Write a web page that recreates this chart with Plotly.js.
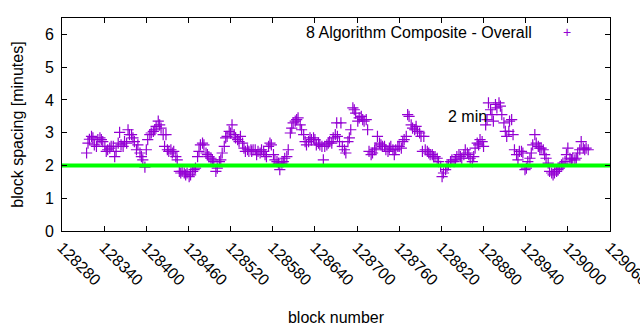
<!DOCTYPE html>
<html><head><meta charset="utf-8">
<script src="https://cdn.plot.ly/plotly-3.0.1.min.js"></script>
<style>html,body{margin:0;padding:0;background:#fff}#chart{width:640px;height:330px}</style>
</head><body><div id="chart"></div>
<script>
const seriesName = "8 Algorithm Composite - Overall";
const targetMinutes = 2;
const targetLabel = "2 min";
const xTitle = "block number";
const yTitle = "block spacing [minutes]";
const xTickVals = [128280,128340,128400,128460,128520,128580,128640,128700,128760,128820,128880,128940,129000,129060];
const yTickVals = [0,1,2,3,4,5,6];

const blocks1 = [128315,128317,128319,128322,128324,128326,128329,128331,128334,128336,128338,128341,128343,128345,128348,128350,128353,128355,128357,128360,128362,128364,128367,128369,128372,128374,128376,128379,128381,128383,128386,128388,128391,128393,128395,128398,128400,128402,128405,128407,128410,128412,128414,128417,128419,128421,128424,128426];
const spacing1 = [2.38,2.68,2.80,2.89,2.84,2.63,2.58,2.79,2.84,2.79,2.73,2.58,2.43,2.48,2.53,2.58,2.58,2.27,2.43,2.68,3.01,2.63,2.58,2.73,2.68,3.09,2.94,2.94,2.84,2.73,2.48,2.63,2.38,2.27,2.17,1.95,2.48,2.79,2.94,2.99,3.04,3.09,3.19,3.35,3.24,3.14,2.94,2.58];

const blocks2 = [128428,128430,128432,128435,128437,128439,128442,128444,128447,128449,128451,128454,128456,128458,128461,128463,128466,128468,128470,128473,128475,128477,128480,128482,128485,128487,128489,128492,128494,128496,128499,128501,128504,128506,128508,128511,128513,128515,128518,128520,128522,128525,128527,128530,128532,128534,128537,128539,128541,128544,128546,128549];
const spacing2 = [2.94,2.48,2.43,2.48,2.38,2.43,2.27,2.17,1.82,1.77,1.82,1.77,1.71,1.77,1.66,1.71,1.82,1.87,1.92,2.27,2.43,2.63,2.68,2.63,2.38,2.33,2.27,2.22,2.17,2.12,1.82,1.92,2.12,2.17,2.38,2.58,2.84,2.89,3.04,2.99,3.24,2.94,2.84,2.79,2.73,2.89,2.68,2.53,2.43,2.48,2.43,2.48];

const blocks3 = [128550,128552,128555,128557,128559,128562,128564,128567,128569,128571,128574,128576,128578,128581,128583,128586,128588,128590,128593,128595,128597,128600,128602,128605,128607,128609,128612,128614,128616,128619,128621,128624,128626,128628,128631,128633,128635,128638,128640,128642,128645,128647,128650,128652,128654,128657,128659,128661,128664,128666,128669,128671];
const spacing3 = [2.43,2.48,2.48,2.33,2.43,2.38,2.48,2.43,2.33,2.27,2.58,2.68,2.63,2.33,2.17,2.12,2.07,1.87,2.07,2.12,2.22,2.27,2.48,2.99,3.14,3.30,3.35,3.40,3.45,3.24,3.09,2.94,2.73,2.63,2.73,2.84,2.79,2.84,2.79,2.63,2.68,2.63,2.58,2.17,2.58,2.63,2.68,2.73,2.68,2.84,2.94,3.30];

const blocks4 = [128672,128675,128677,128679,128682,128684,128687,128689,128691,128694,128696,128698,128701,128703,128706,128708,128710,128713,128715,128717,128720,128722,128725,128727,128729,128732,128734,128736,128739,128741,128744,128746,128748,128751,128753,128755,128758,128760,128763,128765,128767,128770,128772,128774,128777,128779,128782,128784,128786,128789,128791,128793];
const spacing4 = [2.89,2.73,3.30,2.58,2.48,2.38,2.73,2.84,3.09,3.76,3.70,3.60,3.35,3.45,3.50,3.40,3.35,3.40,3.09,2.43,2.33,2.38,2.48,2.53,2.89,2.68,2.63,2.58,2.58,2.48,2.43,2.53,2.58,2.48,2.33,2.48,2.58,2.58,2.53,2.73,2.79,2.89,3.55,3.50,3.24,3.14,3.09,3.19,3.04,2.99,2.89,2.43];

const blocks5 = [128795,128797,128800,128802,128804,128807,128809,128811,128814,128816,128819,128821,128823,128826,128828,128830,128833,128835,128838,128840,128842,128845,128847,128849,128852,128854,128857,128859,128861,128864,128866,128868,128871,128873,128875,128878,128880,128883,128885,128887,128890,128892,128894,128897,128899,128902,128904,128906,128909,128911,128913,128916];
const spacing5 = [2.89,2.48,2.43,2.38,2.33,2.33,2.27,2.27,2.22,2.12,1.97,1.66,1.77,1.87,1.97,2.02,2.12,2.17,2.12,2.17,2.27,2.33,2.27,2.22,2.33,2.48,2.38,2.33,2.22,2.12,2.27,2.53,2.68,2.63,2.79,2.73,2.58,3.24,3.40,3.91,3.70,3.55,3.35,3.86,3.76,3.91,3.81,3.55,3.30,3.04,2.89,3.04];

const blocks6 = [128917,128920,128922,128924,128927,128929,128931,128934,128936,128939,128941,128943,128946,128948,128950,128953,128955,128958,128960,128962,128965,128967,128969,128972,128974,128977,128979,128981,128984,128986,128988,128991,128993,128996,128998,129000,129003,129005,129007,129010,129012,129014,129017,129019,129022,129024,129026,129029];
const spacing6 = [3.35,3.40,2.94,2.48,2.33,2.17,2.43,2.43,2.38,1.87,1.92,2.12,2.22,2.38,2.63,2.94,2.68,2.58,2.53,2.53,2.48,2.33,2.22,2.07,1.82,1.77,1.71,1.77,1.82,1.87,1.92,2.02,2.07,2.12,2.33,2.53,2.22,2.17,2.22,2.17,2.22,2.38,2.48,2.73,2.53,2.48,2.53,2.48];

const blocks = [].concat(blocks1, blocks2, blocks3, blocks4, blocks5, blocks6);
const spacing = [].concat(spacing1, spacing2, spacing3, spacing4, spacing5, spacing6);
const xRange = [xTickVals[0], xTickVals[xTickVals.length - 1]];

const purple = '#9400d3';
const font = 'Liberation Sans, Arial, sans-serif';

const traces = [
  {
    type: 'scatter', mode: 'markers', x: blocks, y: spacing, name: seriesName,
    marker: {symbol: 'cross-thin', size: 8, color: purple, line: {color: purple, width: 1.2}},
    showlegend: false, hoverinfo: 'x+y'
  },
  {
    type: 'scatter', mode: 'lines', x: xRange, y: [targetMinutes, targetMinutes],
    line: {color: '#00ff00', width: 4}, showlegend: false, hoverinfo: 'skip'
  }
];

const axisCommon = {
  showline: true, linecolor: '#000', linewidth: 1, mirror: 'ticks',
  ticks: 'inside', ticklen: 5, tickcolor: '#000', tickwidth: 1,
  showgrid: false, zeroline: false,
  tickfont: {family: font, size: 16, color: '#000'},
  ticklabeloverflow: 'allow'
};

const layout = {
  width: 640, height: 330,
  margin: {l: 62, r: 30, t: 18, b: 99},
  paper_bgcolor: '#fff', plot_bgcolor: '#fff',
  font: {family: font, size: 16, color: '#000'},
  xaxis: Object.assign({}, axisCommon, {
    range: xRange, tickmode: 'array', tickvals: xTickVals,
    ticktext: xTickVals.map(String), tickangle: 45,
    title: {text: xTitle, font: {family: font, size: 16}, standoff: 23},
    automargin: false
  }),
  yaxis: Object.assign({}, axisCommon, {
    range: [0, 6.5], tickmode: 'array', tickvals: yTickVals,
    ticktext: yTickVals.map(String), ticklabelstandoff: 4,
    title: {text: yTitle, font: {family: font, size: 16}, standoff: 17},
    automargin: false
  }),
  annotations: [
    {xref: 'x', yref: 'y', x: 128826.6, y: 3.49, text: targetLabel, showarrow: false,
     xanchor: 'left', yanchor: 'middle', font: {family: font, size: 16, color: '#000'}},
    {xref: 'paper', yref: 'paper', x: 0.8613, y: 0.934, text: seriesName, showarrow: false,
     xanchor: 'right', yanchor: 'middle', font: {family: font, size: 16, color: '#000'}},
    {xref: 'paper', yref: 'paper', x: 0.9215, y: 0.934, text: '+', showarrow: false,
     xanchor: 'center', yanchor: 'middle', font: {family: font, size: 14, color: purple}}
  ]
};

Plotly.newPlot('chart', traces, layout, {displayModeBar: false, staticPlot: true});
</script>
</body></html>
